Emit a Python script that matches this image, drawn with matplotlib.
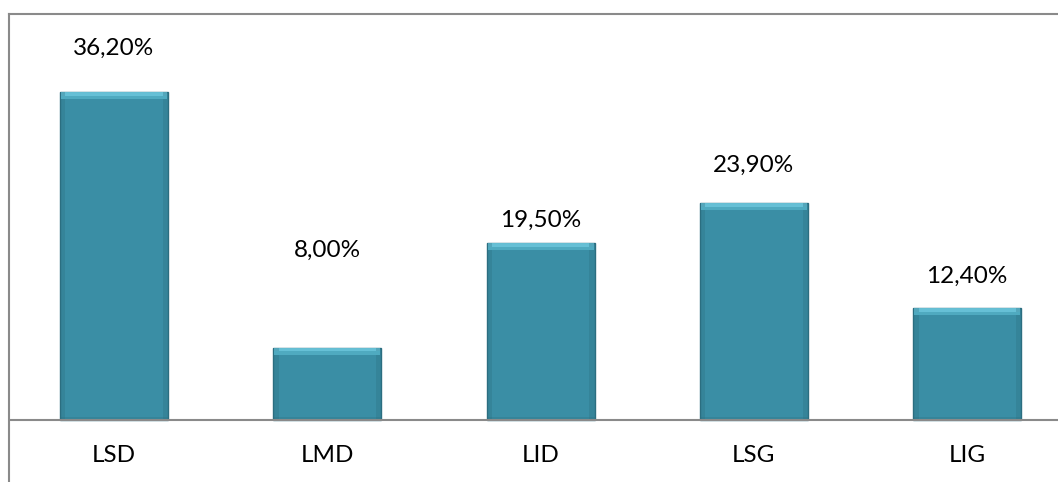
import matplotlib
matplotlib.use("Agg")
import matplotlib.pyplot as plt

categories = ["LSD", "LMD", "LID", "LSG", "LIG"]
values = [36.2, 8.0, 19.5, 23.9, 12.4]
value_labels = ["36,20%", "8,00%", "19,50%", "23,90%", "12,40%"]

# distance (in points) from each bar top to the centre of its value label
label_gap = [31.5, 70, 16.5, 27.5, 22.5]

BAR_COLOR = "#3a8ea5"
EDGE_DARK = "#2b6e80"
HIGHLIGHT = "#6cc6dc"
SPINE = "#8a8a8a"

plt.rcParams["font.family"] = ["Lato", "DejaVu Sans"]


def main():
    fig = plt.figure(figsize=(10.58, 4.82), dpi=100)
    ax = fig.add_axes([9 / 1058, 0.0, 1 - 9 / 1058, 1 - 14 / 482])

    x = list(range(len(categories)))
    width = 0.507
    ax.bar(x, values, width=width, color=BAR_COLOR, edgecolor=EDGE_DARK,
           linewidth=1.0, zorder=3)

    # bevel: light band on top, darker strips on the sides and bottom
    px_per_unit = 9.06
    band = 7 / px_per_unit
    for xi, v in zip(x, values):
        ax.bar(xi, band, bottom=v - band, width=width * 0.98,
               color=HIGHLIGHT, linewidth=0, zorder=4, alpha=0.9)
        ax.bar(xi, band * 0.45, bottom=v - band, width=width * 0.98,
               color="#4faac0", linewidth=0, zorder=5)
        ax.bar(xi - width / 2, v, width=width * 0.05, align="edge",
               color=EDGE_DARK, alpha=0.3, linewidth=0, zorder=4)
        ax.bar(xi + width / 2, v, width=-width * 0.05, align="edge",
               color=EDGE_DARK, alpha=0.3, linewidth=0, zorder=4)
        ax.bar(xi, band * 0.5, width=width, color=EDGE_DARK, alpha=0.3,
               linewidth=0, zorder=4)

    for xi, v, lab, gap in zip(x, values, value_labels, label_gap):
        ax.annotate(lab, (xi, v), xytext=(0, gap), textcoords="offset points",
                    ha="center", va="center", fontsize=17.5, color="black")

    for xi, cat in zip(x, categories):
        ax.text(xi, -3.9, cat, ha="center", va="center", fontsize=17.5,
                color="black")

    ax.set_xlim(-105 / 213.3, (1058 - 114) / 213.3)
    ax.set_ylim(-(482 - 420) / px_per_unit, (420 - 14) / px_per_unit)

    ax.axhline(0, color=SPINE, linewidth=1.5, zorder=6)
    for side in ("bottom", "right"):
        ax.spines[side].set_visible(False)
    for side in ("left", "top"):
        ax.spines[side].set_color(SPINE)
        ax.spines[side].set_linewidth(1.5)

    ax.set_xticks([])
    ax.set_yticks([])

    fig.savefig("out.png", dpi=100)


if __name__ == "__main__":
    main()
